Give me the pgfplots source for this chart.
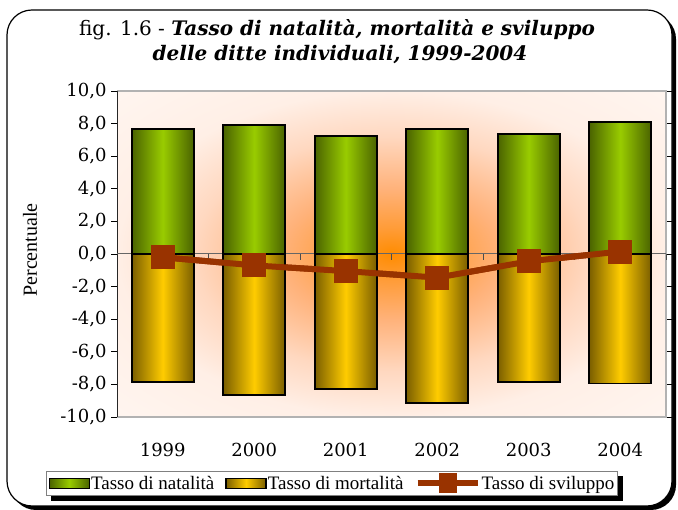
\documentclass[border=0pt]{standalone}
\usepackage{pgfplots}
\pgfplotsset{compat=1.18}
\usepackage{fontspec}
\setmainfont{Liberation Serif}
\newfontfamily\geo{DejaVu Serif}
\pgfdeclarelayer{frame}
\pgfdeclarelayer{shadow}
\pgfsetlayers{frame,shadow,main}
\definecolor{gdark}{HTML}{4A6300}
\definecolor{glight}{HTML}{99CC00}
\definecolor{ydark}{HTML}{7A5E00}
\definecolor{ylight}{HTML}{FFCC00}
\definecolor{lcol}{HTML}{993300}
\definecolor{c0}{HTML}{FF8C00}
\definecolor{c1}{HTML}{FF9C38}
\definecolor{c2}{HTML}{FFB27A}
\definecolor{c3}{HTML}{FFD8C0}
\definecolor{c4}{HTML}{FFEFE6}
\definecolor{c5}{HTML}{FFF8F4}
\pgfdeclareradialshading{glow}{\pgfpoint{0bp}{0bp}}{color(0bp)=(c0); color(4bp)=(c1); color(10bp)=(c2); color(18bp)=(c3); color(25bp)=(c4); color(40bp)=(c5); color(50bp)=(c5)}
\pgfplotsset{
  barleg/.style={legend image code/.code={\draw[##1, line width=1.5pt] (0pt,-5pt) rectangle (40pt,5pt);}},
  lineleg/.style={legend image code/.code={\draw[line width=6pt, lcol] (0pt,0pt) -- (60pt,0pt); \fill[lcol] (24pt,-7pt) rectangle (36pt,7pt);}},
  gbar/.style={ybar, bar width=0.68, bar shift=0pt, draw=black, line width=1.8pt, left color=gdark, right color=gdark, middle color=glight, barleg},
  obar/.style={ybar, bar width=0.68, bar shift=0pt, draw=black, line width=1.8pt, left color=ydark, right color=ydark, middle color=ylight, barleg},
}
\begin{document}
\begin{tikzpicture}[x=1pt,y=1pt]
\begin{pgfonlayer}{frame}
\fill[black, rounded corners=25] (11,0) rectangle (676,496);
\draw[fill=white, line width=1.2pt, rounded corners=25] (7,4) rectangle (672,500);
\end{pgfonlayer}
\node[font=\geo\fontsize{20}{23}\selectfont] at (337,480) {fig. 1.6 - \textbf{\textit{Tasso di natalità, mortalità e sviluppo}}};
\node[font=\geo\fontsize{20}{23}\selectfont] at (340,455) {\textbf{\textit{delle ditte individuali, 1999-2004}}};
\node[rotate=90, font=\fontsize{20}{22}\selectfont] at (30,260) {Percentuale};
\begin{axis}[
  at={(117pt,93pt)}, anchor=south west, scale only axis, width=549pt, height=326pt,
  xmin=-0.5, xmax=5.5, ymin=-10, ymax=10,
  ytick={-10,-8,...,10},
  xtick={0,1,2,3,4,5}, xticklabels={1999,2000,2001,2002,2003,2004},
  xtick style={draw=none},
  ytick style={black, line width=0.8pt},
  tick align=outside, major tick length=6pt,
  axis line style={draw=none},
  axis background/.style={shade, shading=glow},
  clip=false,
  xticklabel style={font=\geo\fontsize{18}{20}\selectfont, yshift=-17pt},
  yticklabel style={font=\geo\fontsize{18}{20}\selectfont, xshift=-1pt, /pgf/number format/.cd, fixed, fixed zerofill, precision=1, use comma, assume math mode=true},
  legend columns=3,
  legend style={at={(0.3916,-0.204)}, anchor=center, draw=gray, line width=1.2pt, fill=white,
    name=leg,
    font=\fontsize{19}{20}\selectfont, inner sep=2pt,
    nodes={inner sep=1pt},
    /tikz/every even column/.append style={column sep=10pt}},
]
\draw[gray!60, line width=1.5pt] (rel axis cs:0,1) -- (rel axis cs:1,1) -- (rel axis cs:1,0) -- (rel axis cs:0,0);
\draw[black!85, line width=0.8pt] (rel axis cs:0,0) -- (rel axis cs:0,1);
\draw[black!60, line width=1pt] (axis cs:-0.5,0) -- (axis cs:5.5,0);
\draw[black!70, line width=0.8pt] (axis cs:0.5,0) -- ([yshift=-6pt]axis cs:0.5,0);
\draw[black!70, line width=0.8pt] (axis cs:1.5,0) -- ([yshift=-6pt]axis cs:1.5,0);
\draw[black!70, line width=0.8pt] (axis cs:2.5,0) -- ([yshift=-6pt]axis cs:2.5,0);
\draw[black!70, line width=0.8pt] (axis cs:3.5,0) -- ([yshift=-6pt]axis cs:3.5,0);
\draw[black!70, line width=0.8pt] (axis cs:4.5,0) -- ([yshift=-6pt]axis cs:4.5,0);
\draw[black!70, line width=0.8pt] (axis cs:5.5,0) -- ([yshift=-6pt]axis cs:5.5,0);
\addplot[gbar] coordinates {(0,7.65)};
\addlegendentry{Tasso di natalità}
\addplot[obar] coordinates {(0,-7.87)};
\addlegendentry{Tasso di mortalità}
\addplot[lcol, line width=6pt, mark=square*, mark size=11.5pt, mark options={line width=0pt, fill=lcol}, lineleg]
  coordinates {(0,-0.2) (1,-0.7) (2,-1.05) (3,-1.45) (4,-0.45) (5,0.15)};
\addlegendentry{Tasso di sviluppo}
\addplot[gbar, forget plot] coordinates {(1,7.9)};
\addplot[gbar, forget plot] coordinates {(2,7.24)};
\addplot[gbar, forget plot] coordinates {(3,7.65)};
\addplot[gbar, forget plot] coordinates {(4,7.36)};
\addplot[gbar, forget plot] coordinates {(5,8.1)};
\addplot[obar, forget plot] coordinates {(1,-8.63)};
\addplot[obar, forget plot] coordinates {(2,-8.3)};
\addplot[obar, forget plot] coordinates {(3,-9.16)};
\addplot[obar, forget plot] coordinates {(4,-7.83)};
\addplot[obar, forget plot] coordinates {(5,-7.95)};
\addplot[lcol, line width=6pt, mark=square*, mark size=11.5pt, mark options={line width=0pt, fill=lcol}, forget plot]
  coordinates {(0,-0.2) (1,-0.7) (2,-1.05) (3,-1.45) (4,-0.45) (5,0.15)};
\end{axis}
\begin{pgfonlayer}{shadow}
\fill[black] ([shift={(5pt,-5pt)}]leg.south west) rectangle ([shift={(5pt,-5pt)}]leg.north east);
\end{pgfonlayer}
\pgfresetboundingbox
\path (0,0) rectangle (678,510);
\end{tikzpicture}
\end{document}
